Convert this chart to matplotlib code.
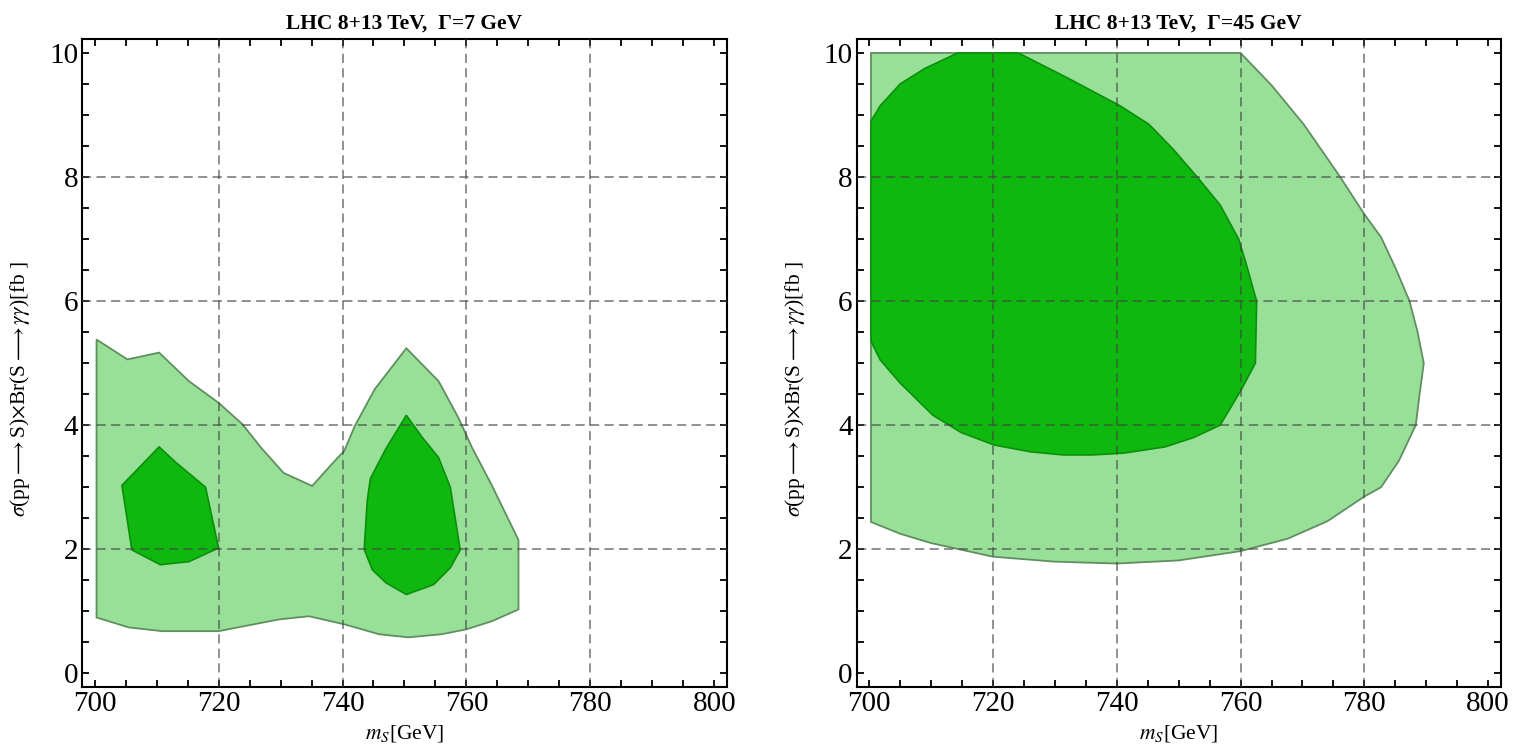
import matplotlib.pyplot as plt
import numpy as np
from matplotlib.ticker import MultipleLocator

plt.rcParams['font.family'] = ['Liberation Serif', 'DejaVu Serif']
plt.rcParams['mathtext.fontset'] = 'stix'

# Gamma = 7 GeV panel: outer (light) region and two inner (dark) islands
g7_outer_m = [700.3, 705.3, 710.4, 715.2, 720.0, 723.8, 727.0, 730.5, 735.1, 737.8,
              740.3, 742.0, 745.2, 750.3, 755.5, 758.7, 760.9, 764.1, 768.4, 768.4,
              764.1, 760.0, 756.0, 750.6, 745.9, 740.3, 734.6, 729.8, 720.0, 710.9,
              705.5, 700.3]
g7_outer_s = [5.38, 5.06, 5.17, 4.71, 4.36, 4.02, 3.62, 3.23, 3.02, 3.32,
              3.59, 3.99, 4.58, 5.24, 4.71, 4.12, 3.64, 3.03, 2.15, 1.03,
              0.84, 0.71, 0.63, 0.58, 0.63, 0.79, 0.92, 0.87, 0.68, 0.68,
              0.74, 0.90]
g7_in1_m = [704.4, 710.4, 713.1, 717.9, 720.0, 715.2, 710.6, 706.0]
g7_in1_s = [3.03, 3.65, 3.40, 3.00, 2.02, 1.80, 1.75, 1.99]
g7_in2_m = [750.3, 752.9, 755.5, 757.4, 759.0, 757.4, 754.7, 750.3, 747.0, 744.8,
            743.5, 744.0, 744.5, 747.0]
g7_in2_s = [4.16, 3.80, 3.48, 3.00, 1.99, 1.70, 1.43, 1.27, 1.46, 1.67,
            2.00, 2.79, 3.14, 3.62]

# Gamma = 45 GeV panel
g45_outer_m = [700.3, 760.0, 765.0, 770.2, 776.1, 780.0, 782.7, 785.0, 787.3, 788.6,
               789.6, 788.9, 788.3, 785.6, 782.7, 780.0, 774.0, 767.6, 760.0, 750.0,
               740.0, 730.0, 720.0, 710.0, 705.0, 700.3]
g45_outer_s = [10.0, 10.0, 9.48, 8.85, 8.00, 7.40, 7.03, 6.54, 6.00, 5.50,
               5.00, 4.48, 4.00, 3.43, 3.00, 2.85, 2.45, 2.17, 1.97, 1.82,
               1.77, 1.80, 1.88, 2.10, 2.25, 2.44]
g45_in_m = [700.3, 701.8, 705.0, 709.0, 714.3, 724.1, 732.0, 740.5, 745.2, 749.1,
            753.0, 756.7, 759.7, 761.0, 762.6, 762.4, 760.0, 756.7, 752.4, 747.8,
            741.2, 736.0, 731.4, 726.1, 720.2, 714.9, 710.3, 705.0, 701.8, 700.3]
g45_in_s = [8.90, 9.15, 9.50, 9.75, 10.0, 10.0, 9.60, 9.15, 8.85, 8.45,
            8.00, 7.55, 7.00, 6.57, 6.00, 5.00, 4.55, 4.00, 3.80, 3.65,
            3.55, 3.52, 3.52, 3.57, 3.68, 3.88, 4.16, 4.68, 5.05, 5.35]

titles = ['LHC 8+13 TeV,  \u0393=7 GeV', 'LHC 8+13 TeV,  \u0393=45 GeV']
grid_x = [720, 740, 760, 780]
grid_y = [2, 4, 6, 8]

light = '#98e098'
dark = '#0fb80f'

fig = plt.figure(figsize=(15.18, 7.56), dpi=100)
ax1 = fig.add_axes([0.0542, 0.0913, 0.4245, 0.8567])
ax2 = fig.add_axes([0.5644, 0.0913, 0.4241, 0.8567])

panels = [
    (ax1, [(g7_outer_m, g7_outer_s)], [(g7_in1_m, g7_in1_s), (g7_in2_m, g7_in2_s)]),
    (ax2, [(g45_outer_m, g45_outer_s)], [(g45_in_m, g45_in_s)]),
]

for (ax, outer, inner), title in zip(panels, titles):
    for m, s in outer:
        ax.fill(m, s, facecolor=light, edgecolor='#5f8f5f', linewidth=1.3, zorder=1)
    for m, s in inner:
        ax.fill(m, s, facecolor=dark, edgecolor='#0b8f0b', linewidth=1.2, zorder=2)
    for gx in grid_x:
        ax.axvline(gx, color='#444444', alpha=0.75, linewidth=1.1, dashes=(6, 3.5), zorder=3)
    for gy in grid_y:
        ax.axhline(gy, color='#444444', alpha=0.75, linewidth=1.1, dashes=(6, 3.5), zorder=3)

    ax.set_xlim(698, 802)
    ax.set_ylim(-0.22, 10.22)
    ax.xaxis.set_major_locator(MultipleLocator(20))
    ax.xaxis.set_minor_locator(MultipleLocator(5))
    ax.yaxis.set_major_locator(MultipleLocator(2))
    ax.yaxis.set_minor_locator(MultipleLocator(0.5))
    ax.tick_params(which='both', direction='in', top=True, right=True,
                   length=5, width=1.3, color='black')
    ax.tick_params(axis='x', labelsize=21, pad=3)
    ax.tick_params(axis='y', labelsize=21, pad=3)
    for sp in ax.spines.values():
        sp.set_linewidth(1.5)

    ax.set_title(title, fontsize=15.5, fontweight='bold', pad=8)
    ax.set_xlabel(r'$m_S$[GeV]', fontsize=15.5, labelpad=4)
    ax.set_ylabel(r'$\sigma$(pp$\longrightarrow$S)$\times$Br(S$\longrightarrow\gamma\gamma$)[fb ]',
                  fontsize=15.5)
    ax.yaxis.set_label_coords(-0.078, 0.46)

fig.savefig('out.png', dpi=100)
